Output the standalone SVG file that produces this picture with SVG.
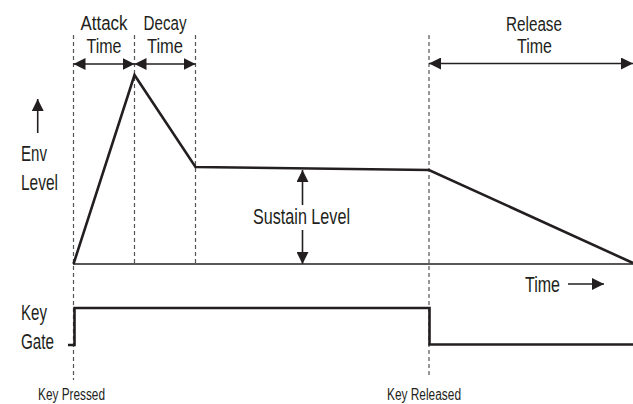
<svg xmlns="http://www.w3.org/2000/svg" width="633" height="404" viewBox="0 0 633 404">
<defs>
<style>
text{font-family:"Liberation Sans",Arial,sans-serif;fill:#231f20;}
.big{font-size:21.5px;}
.head{font-size:20px;}
.small{font-size:16px;}
.dash{stroke:#555;stroke-width:1.2;stroke-dasharray:4 3;fill:none;}
.env{stroke:#231f20;stroke-width:2.6;fill:none;stroke-linejoin:miter;}
.axis{stroke:#231f20;stroke-width:1.4;fill:none;}
.arr{stroke:#231f20;stroke-width:1.6;fill:none;}
</style>
<marker id="ah" viewBox="0 0 12 12" refX="12" refY="6" markerWidth="12" markerHeight="12" markerUnits="userSpaceOnUse" orient="auto-start-reverse">
<path d="M0,0 L12,6 L0,12 Z" fill="#231f20"/>
</marker>
</defs>
<rect width="633" height="404" fill="#fff"/>
<g id="guides">
<line class="dash" x1="73.5" y1="35" x2="73.5" y2="380"/>
<line class="dash" x1="134.5" y1="35" x2="134.5" y2="264"/>
<line class="dash" x1="195.5" y1="35" x2="195.5" y2="264"/>
<line class="dash" x1="429" y1="35" x2="429" y2="378"/>
</g>
<g id="axes">
<line class="axis" x1="73" y1="264" x2="633" y2="264"/>
</g>
<g id="envelope">
<polyline class="env" points="73.5,264 134.5,75 195.5,167 429,170 633,263"/>
</g>
<g id="gate">
<polyline class="env" points="68,345 74.5,345 74.5,308 429.5,308 429.5,344.5 633,344.5"/>
</g>
<g id="connectors">
<line class="arr" x1="73.5" y1="64" x2="134.5" y2="64" marker-start="url(#ah)" marker-end="url(#ah)"/>
<line class="arr" x1="134.5" y1="64" x2="195.5" y2="64" marker-start="url(#ah)" marker-end="url(#ah)"/>
<line class="arr" x1="429" y1="63.5" x2="633" y2="63.5" marker-start="url(#ah)" marker-end="url(#ah)"/>
<line class="arr" x1="302.5" y1="205" x2="302.5" y2="170" marker-end="url(#ah)"/>
<line class="arr" x1="302.5" y1="230" x2="302.5" y2="264" marker-end="url(#ah)"/>
<line class="arr" x1="37.7" y1="133" x2="37.7" y2="99" marker-end="url(#ah)"/>
<line class="arr" x1="568" y1="284" x2="604" y2="284" marker-end="url(#ah)"/>
</g>
<g id="labels">
<text class="head" x="104" y="30" text-anchor="middle" textLength="47" lengthAdjust="spacingAndGlyphs">Attack</text>
<text class="head" x="104" y="52.5" text-anchor="middle" textLength="35" lengthAdjust="spacingAndGlyphs">Time</text>
<text class="head" x="165" y="30" text-anchor="middle" textLength="43" lengthAdjust="spacingAndGlyphs">Decay</text>
<text class="head" x="165" y="52.5" text-anchor="middle" textLength="36" lengthAdjust="spacingAndGlyphs">Time</text>
<text class="head" x="534" y="30.5" text-anchor="middle" textLength="56" lengthAdjust="spacingAndGlyphs">Release</text>
<text class="head" x="534.5" y="53" text-anchor="middle" textLength="35" lengthAdjust="spacingAndGlyphs">Time</text>
<text class="big" x="21" y="161" textLength="26" lengthAdjust="spacingAndGlyphs">Env</text>
<text class="big" x="21" y="190" textLength="37" lengthAdjust="spacingAndGlyphs">Level</text>
<text class="big" x="301.5" y="223.5" text-anchor="middle" textLength="97" lengthAdjust="spacingAndGlyphs">Sustain Level</text>
<text class="big" x="525" y="292" textLength="35" lengthAdjust="spacingAndGlyphs">Time</text>
<text class="big" x="21" y="320" textLength="26" lengthAdjust="spacingAndGlyphs">Key</text>
<text class="big" x="21" y="348.5" textLength="33" lengthAdjust="spacingAndGlyphs">Gate</text>
<text class="small" x="38" y="400" textLength="67" lengthAdjust="spacingAndGlyphs">Key Pressed</text>
<text class="small" x="387" y="399.5" textLength="74" lengthAdjust="spacingAndGlyphs">Key Released</text>
</g>
</svg>
